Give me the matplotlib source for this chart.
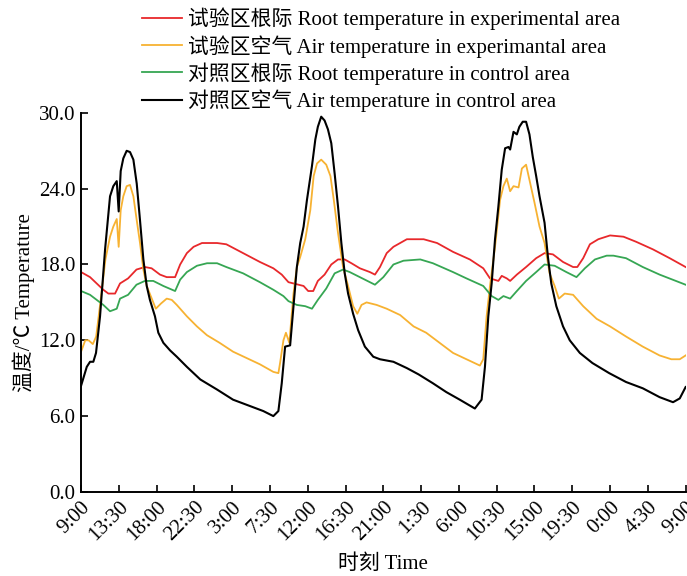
import numpy as np
import matplotlib
matplotlib.use("Agg")
import matplotlib.pyplot as plt

plt.rcParams['font.family'] = ['Liberation Serif', 'Noto Sans CJK SC']

# 时间（小时，从第一天 9:00 起）与温度
tick_labels = ['9:00', '13:30', '18:00', '22:30', '3:00', '7:30', '12:00', '16:30', '21:00',
               '1:30', '6:00', '10:30', '15:00', '19:30', '0:00', '4:30', '9:00']

# 试验区根际
exp_root_h = [0, 1.07, 1.86, 2.65, 3.25, 4.05, 4.64, 5.6, 6.6, 7.6, 8.4, 9.4, 10.2, 11.2, 11.8,
              12.6, 13.4, 14.4, 16.2, 17.3, 19.3, 21.3, 22.9, 23.9, 24.7, 25.3, 26.5, 27.05, 27.65,
              28.2, 29.0, 29.8, 30.6, 31.4, 32.2, 33.2, 34.4, 35.0, 35.6, 36.4, 37.2, 38.8, 40.8,
              42.4, 44.3, 46.3, 47.9, 48.7, 49.7, 50.1, 50.7, 51.1, 51.9, 53.0, 54.2, 55.2, 56.2,
              57.4, 58.6, 59.1, 59.8, 60.6, 61.6, 63.0, 64.6, 66.1, 68.1, 70.1, 72]
exp_root_t = [17.4, 17.0, 16.5, 16.0, 15.7, 15.7, 16.5, 16.9, 17.6, 17.8, 17.7, 17.2, 17.0, 17.0, 18.0,
              18.9, 19.4, 19.7, 19.7, 19.6, 18.9, 18.2, 17.7, 17.2, 16.6, 16.5, 16.3, 15.9, 15.9,
              16.7, 17.2, 18.0, 18.4, 18.4, 18.1, 17.7, 17.4, 17.2, 17.8, 18.9, 19.4, 20.0, 20.0,
              19.7, 19.0, 18.4, 17.7, 16.9, 16.7, 17.1, 16.9, 16.7, 17.2, 17.8, 18.5, 18.9, 18.8,
              18.2, 17.8, 17.8, 18.5, 19.6, 20.0, 20.3, 20.2, 19.8, 19.2, 18.5, 17.8]

# 试验区空气
exp_air_h = [0, 0.5, 0.9, 1.4, 1.8, 2.3, 2.9, 3.45, 3.84, 4.25, 4.48, 4.72, 5.03, 5.43, 5.83, 6.23,
             6.63, 7.02, 7.42, 7.82, 8.3, 8.9, 9.5, 10.2, 10.8, 11.4, 12.6, 13.8, 15.0, 16.5, 18.1,
             19.7, 21.3, 22.9, 23.5, 23.7, 24.1, 24.4, 24.8, 25.3, 25.7, 26.1, 26.7, 27.3, 27.7,
             28.1, 28.6, 29.2, 29.7, 30.1, 30.6, 31.2, 31.8, 32.4, 32.9, 33.4, 34.0, 35.2, 36.4,
             38.0, 39.6, 41.1, 42.7, 44.3, 45.9, 47.5, 47.9, 48.3, 48.7, 49.3, 49.9, 50.3, 50.7,
             51.1, 51.5, 52.1, 52.5, 53.0, 53.4, 54.0, 54.6, 55.2, 55.8, 56.4, 56.9, 57.6, 58.6,
             59.8, 61.4, 63.0, 64.9, 66.9, 68.9, 70.3, 71.3, 72]
exp_air_t = [11.1, 12.0, 12.0, 11.7, 12.3, 15.0, 18.4, 20.2, 21.0, 21.6, 19.4, 22.3, 23.4, 24.2, 24.3, 23.4,
             21.5, 19.7, 17.6, 16.3, 15.5, 14.5, 14.9, 15.3, 15.2, 14.8, 13.9, 13.1, 12.4, 11.8, 11.1,
             10.6, 10.1, 9.5, 9.4, 10.2, 12.0, 12.6, 11.8, 15.7, 17.8, 18.6, 20.0, 22.3, 25.0,
             26.0, 26.3, 25.9, 25.0, 23.1, 20.5, 17.8, 16.3, 14.7, 14.1, 14.8, 15.0, 14.8, 14.5,
             14.0, 13.1, 12.6, 11.8, 11.0, 10.5, 10.0, 10.5, 13.9, 16.3, 19.4, 23.1, 24.2, 24.8,
             23.8, 24.2, 24.1, 25.6, 25.9, 24.7, 22.9, 21.0, 19.7, 17.3, 16.3, 15.3, 15.7, 15.6,
             14.7, 13.7, 13.1, 12.3, 11.5, 10.8, 10.5, 10.5, 10.8]

# 对照区根际
ctl_root_h = [0, 1.07, 1.86, 2.65, 3.45, 4.25, 4.64, 5.6, 6.6, 7.6, 8.6, 9.8, 11.2, 11.8, 12.6, 13.8,
              15.0, 16.2, 17.3, 19.3, 21.3, 22.9, 24.1, 24.7, 25.7, 26.7, 27.5, 28.2, 29.2, 30.2,
              31.2, 32.0, 33.2, 35.0, 36.0, 37.2, 38.4, 40.4, 41.9, 44.3, 45.9, 47.9, 48.9, 49.7,
              50.3, 51.1, 51.9, 53.0, 54.2, 55.2, 56.4, 57.8, 59.0, 60.0, 61.2, 62.6, 63.4, 64.9,
              66.9, 68.9, 72]
ctl_root_t = [15.9, 15.6, 15.2, 14.8, 14.3, 14.5, 15.3, 15.6, 16.4, 16.7, 16.7, 16.3, 15.9, 16.8, 17.4, 17.9,
              18.1, 18.1, 17.8, 17.3, 16.6, 16.0, 15.5, 15.1, 14.8, 14.7, 14.5, 15.2, 16.1, 17.3,
              17.6, 17.4, 17.0, 16.4, 17.0, 18.0, 18.3, 18.4, 18.1, 17.4, 16.9, 16.3, 15.5, 15.2,
              15.5, 15.3, 15.9, 16.7, 17.4, 18.0, 17.9, 17.4, 17.0, 17.7, 18.4, 18.7, 18.7, 18.5,
              17.8, 17.2, 16.4]

# 对照区空气
ctl_air_h = [0, 0.68, 1.07, 1.46, 1.78, 2.26, 2.86, 3.45, 3.84, 4.25, 4.48, 4.72, 5.03, 5.43, 5.83,
             6.23, 6.63, 7.02, 7.42, 7.82, 8.2, 8.8, 9.2, 9.8, 10.6, 11.4, 12.6, 14.2, 16.2, 18.1,
             20.1, 21.7, 22.9, 23.5, 23.9, 24.3, 24.9, 25.3, 25.7, 26.1, 26.5, 26.9, 27.5, 27.9,
             28.2, 28.6, 29.0, 29.4, 29.8, 30.2, 30.6, 31.0, 31.4, 31.8, 32.4, 33.0, 33.8, 34.8,
             35.6, 37.2, 38.8, 40.2, 41.9, 43.5, 45.1, 46.9, 47.7, 48.1, 48.5, 48.9, 49.3, 49.7,
             50.1, 50.5, 50.9, 51.1, 51.5, 51.9, 52.2, 52.6, 53.0, 53.4, 53.8, 54.2, 54.6, 55.2,
             55.6, 56.0, 56.6, 57.4, 58.2, 59.4, 60.9, 62.9, 64.9, 66.9, 68.9, 70.5, 71.3, 72]
ctl_air_t = [8.4, 9.9, 10.3, 10.3, 11.0, 13.9, 19.2, 23.4, 24.2, 24.6, 22.2, 25.4, 26.4, 27.0, 26.9,
             26.3, 24.4, 21.5, 18.4, 16.3, 15.2, 13.9, 12.6, 11.8, 11.2, 10.7, 9.9, 8.9, 8.1, 7.3,
             6.8, 6.4, 6.0, 6.4, 8.6, 11.5, 11.6, 14.7, 17.8, 19.7, 21.0, 23.1, 25.8, 27.9,
             28.9, 29.7, 29.4, 28.7, 27.6, 25.2, 22.6, 19.7, 17.3, 15.7, 14.1, 12.8, 11.5, 10.7,
             10.5, 10.3, 9.8, 9.3, 8.6, 7.9, 7.3, 6.6, 7.3, 9.9, 13.9, 16.5, 20.0, 22.6,
             25.5, 27.2, 27.3, 27.1, 28.5, 28.3, 28.9, 29.3, 29.3, 28.3, 26.5, 25.0, 23.4, 21.3,
             18.6, 16.5, 14.7, 13.1, 12.0, 11.0, 10.2, 9.4, 8.7, 8.2, 7.5, 7.1, 7.4, 8.3]

fig = plt.figure(figsize=(6.87, 5.76), dpi=100)
ax = fig.add_axes([0.118, 0.146, 0.880, 0.658])

ax.plot(exp_root_h, exp_root_t, color='#e8282b', lw=1.3, label='试验区根际 Root temperature in experimental area')
ax.plot(exp_air_h, exp_air_t, color='#f7b232', lw=1.3, label='试验区空气 Air temperature in experimantal area')
ax.plot(ctl_root_h, ctl_root_t, color='#36a653', lw=1.3, label='对照区根际 Root temperature in control area')
ax.plot(ctl_air_h, ctl_air_t, color='black', lw=1.5, label='对照区空气 Air temperature in control area')

ax.set_xlim(0, 72)
ax.set_ylim(0, 30)
ax.set_xticks(np.arange(0, 72.1, 4.5))
ax.set_xticklabels(tick_labels, rotation=45, ha='right', rotation_mode='anchor')
ax.set_yticks(np.arange(0, 30.1, 6))
ax.set_yticklabels([f'{v:.1f}' for v in np.arange(0, 30.1, 6)])
ax.tick_params(direction='in', length=5, width=1.2, labelsize=15, pad=4)
for s in ['top', 'right']:
    ax.spines[s].set_visible(False)
for s in ['left', 'bottom']:
    ax.spines[s].set_linewidth(1.4)

ax.set_xlabel('时刻 Time', fontsize=15, labelpad=7)
ax.set_ylabel('温度/℃ Temperature', fontsize=15, labelpad=3)

fig.legend(loc='upper left', bbox_to_anchor=(0.185, 1.012), frameon=False, fontsize=15,
           handlelength=1.95, handletextpad=0.25, labelspacing=0.22, borderpad=0.2)

fig.savefig('out.png', dpi=100)
